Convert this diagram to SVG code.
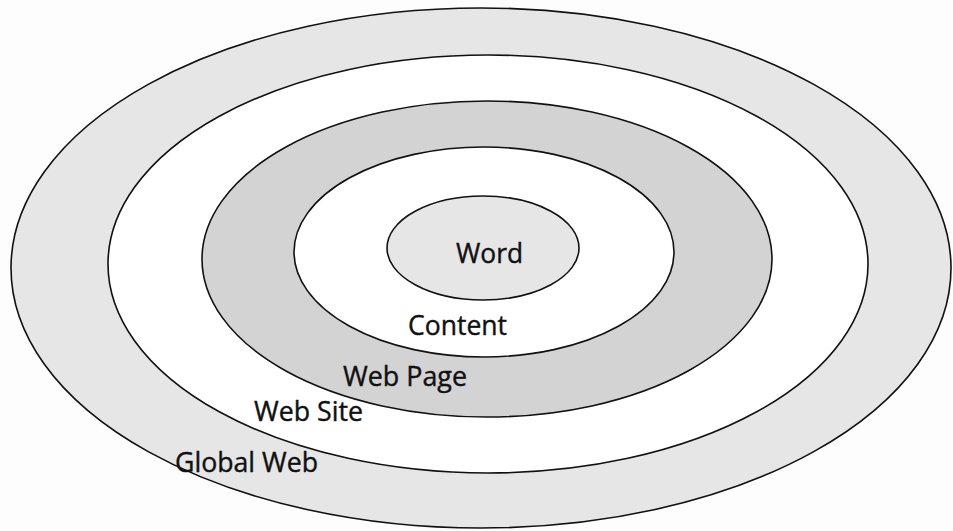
<svg xmlns="http://www.w3.org/2000/svg" width="953" height="531" viewBox="0 0 953 531">
  <style>
    .ring { stroke: #111; stroke-width: 1.6; }
    .label { font-family: "Open Sans", "Noto Sans", "Liberation Sans", sans-serif; font-size: 27px; fill: #111; stroke: #111; stroke-width: 0.4; }
  </style>
  <rect width="953" height="531" fill="#fdfdfd"/>
  <g id="global-web">
    <ellipse class="ring" cx="481" cy="268" rx="470" ry="260" fill="#e6e6e6"/>
  </g>
  <g id="web-site">
    <ellipse class="ring" cx="488" cy="264" rx="380" ry="209" fill="#ffffff"/>
  </g>
  <g id="web-page">
    <ellipse class="ring" cx="487" cy="259" rx="285" ry="158" fill="#d3d3d3"/>
  </g>
  <g id="content">
    <ellipse class="ring" cx="484" cy="252" rx="190" ry="105" fill="#ffffff"/>
  </g>
  <g id="word">
    <ellipse class="ring" cx="483" cy="248" rx="96" ry="52" fill="#e6e6e6"/>
  </g>
  <g id="labels">
    <text class="label" x="456" y="263" textLength="67" lengthAdjust="spacingAndGlyphs">Word</text>
    <text class="label" x="408" y="335" textLength="99" lengthAdjust="spacingAndGlyphs">Content</text>
    <text class="label" x="343" y="386" textLength="124" lengthAdjust="spacingAndGlyphs">Web Page</text>
    <text class="label" x="254" y="421" textLength="109" lengthAdjust="spacingAndGlyphs">Web Site</text>
    <text class="label" x="175" y="472" textLength="143" lengthAdjust="spacingAndGlyphs">Global Web</text>
  </g>
</svg>
